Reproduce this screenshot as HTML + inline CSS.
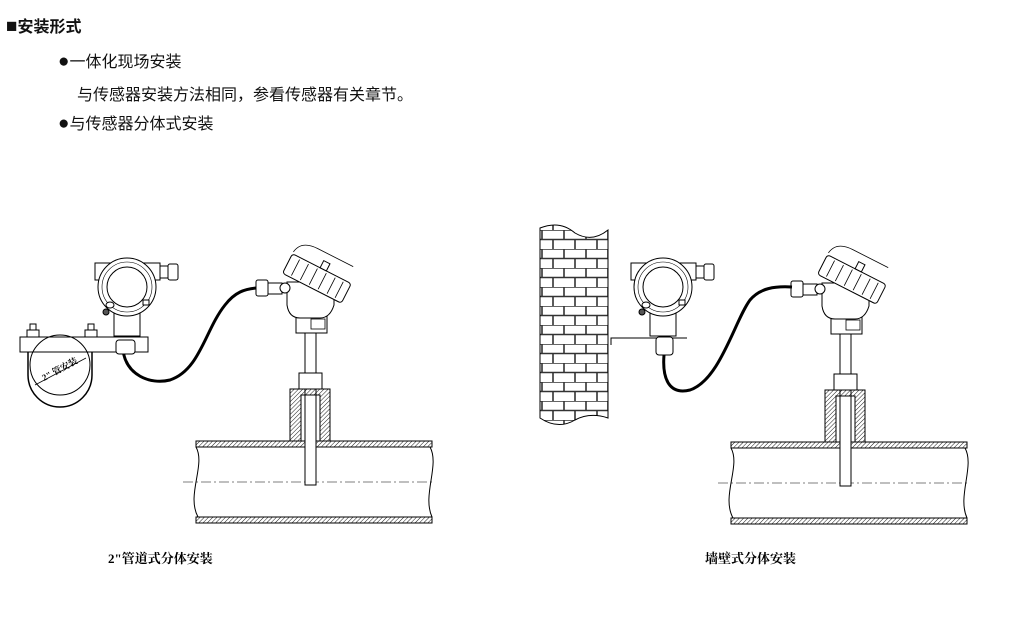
<!DOCTYPE html>
<html><head><meta charset="utf-8"><style>
html,body{margin:0;padding:0;background:#fff;}
body{width:1031px;height:640px;overflow:hidden;position:relative;}
.t{position:absolute;font-family:"Liberation Sans","Noto Sans CJK SC",sans-serif;color:#111;white-space:nowrap;}
</style></head><body>
<div class="t" style="left:6px;top:13px;font-size:16px;font-weight:bold;"><span style="font-size:19px;line-height:16px">■</span>安装形式</div>
<div class="t" style="left:58px;top:48px;font-size:16px;"><span style="font-size:19px;line-height:16px">●</span>一体化现场安装</div>
<div class="t" style="left:77px;top:81px;font-size:16px;">与传感器安装方法相同，参看传感器有关章节。</div>
<div class="t" style="left:58px;top:110px;font-size:16px;"><span style="font-size:19px;line-height:16px">●</span>与传感器分体式安装</div>
<svg width="1031" height="640" style="position:absolute;left:0;top:0" xmlns="http://www.w3.org/2000/svg">
<defs>
<pattern id="h" width="3" height="3" patternUnits="userSpaceOnUse" patternTransform="rotate(45)"><line x1="0" y1="0" x2="0" y2="3" stroke="#000" stroke-width="0.9"/></pattern>
<pattern id="b" x="540" y="230" width="22" height="19" patternUnits="userSpaceOnUse"><path d="M0 0H22M0 9.5H22M2 0V9.5M13 9.5V19" stroke="#333" stroke-width="1.6" fill="none"/></pattern>
<g id="tx" stroke="#000" stroke-width="1" fill="#fff">
 <rect x="95" y="263" width="65" height="17"/>
 <rect x="160" y="266" width="8" height="12"/><rect x="168" y="264" width="10" height="16" rx="2"/>
 <rect x="114" y="312" width="26" height="24"/>
 <circle cx="127" cy="287" r="29"/>
 <circle cx="127" cy="287" r="20" fill="none"/>
 <circle cx="127" cy="287" r="25" fill="none" stroke-width="0.6"/>
 <ellipse cx="110" cy="305" rx="4" ry="3"/><rect x="143" y="300" width="6" height="5"/>
 <circle cx="106" cy="312" r="3" fill="#555"/>
</g>
<g id="hd" stroke="#000" stroke-width="1" fill="#fff">
 <rect x="305" y="330" width="11" height="155"/>
 <rect x="299" y="373" width="23" height="16"/>
 <path d="M290 389H330V441H320V395H301V441H290Z" fill="url(#h)"/>
 <rect x="296" y="316" width="31" height="17"/>
 <rect x="311" y="319" width="14" height="10" stroke-width="0.8"/>
 <path d="M287 282H334V305Q330 318 320 318H300Q289 318 287 305Z"/>
 <rect x="256" y="280" width="12" height="16" rx="2"/><rect x="268" y="283" width="14" height="11"/>
 <circle cx="285" cy="288" r="5"/>
 <g transform="rotate(27 316 278)">
  <path d="M284 265Q286 251 304 251H344" fill="none" stroke-width="0.8"/>
  <rect x="284" y="267" width="66" height="22" rx="3"/>
  <path d="M293 269V287M303 269V287M313 269V287M323 269V287M333 269V287M342 269V287" stroke-width="0.8"/>
  <rect x="315" y="259" width="7" height="8"/>
 </g>
</g>
<g id="pp" stroke="#000" stroke-width="1">
 <rect x="196" y="441" width="236" height="6" fill="url(#h)"/>
 <rect x="196" y="517" width="236" height="6" fill="url(#h)"/>
 <path d="M196 447C206 465 186 495 198 517M430 447C440 465 422 495 432 517" fill="none"/>
 <line x1="183" y1="482" x2="434" y2="482" stroke-dasharray="10 3 2 3" stroke-width="0.6"/>
</g>
</defs>
<use href="#pp"/>
<use href="#hd"/>
<path d="M123 350C126 375 150 385 170 380C200 370 205 330 225 305C235 292 245 289 256 288" stroke="#000" stroke-width="3" fill="none"/>
<rect x="20" y="337" width="128" height="15" fill="#fff" stroke="#000"/>
<rect x="116" y="340" width="19" height="14" rx="3" fill="#fff" stroke="#000"/>
<rect x="27" y="330" width="12" height="7" fill="#fff" stroke="#000"/><rect x="30" y="324" width="6" height="6" fill="#fff" stroke="#000"/>
<rect x="85" y="330" width="12" height="7" fill="#fff" stroke="#000"/><rect x="88" y="324" width="6" height="6" fill="#fff" stroke="#000"/>
<path d="M28 352V375A32 32 0 0 0 92 375V352" fill="none" stroke="#000" stroke-width="1.5"/>
<circle cx="60" cy="365" r="30" fill="none" stroke="#000"/>
<line x1="35" y1="385" x2="86" y2="358" stroke="#000" stroke-width="0.8"/>
<text x="44" y="381" transform="rotate(-28 44 381)" font-family="Liberation Serif,Noto Serif CJK SC,serif" font-size="9" font-weight="bold">2" 管安装</text>
<use href="#tx"/>
<text x="108" y="563" font-family="Liberation Serif,Noto Serif CJK SC,serif" font-size="13" font-weight="bold">2"管道式分体安装</text>
<g transform="translate(535 1)"><use href="#pp"/><use href="#hd"/></g>
<path d="M540 228Q560 220 575 233Q592 243 608 230V418Q590 412 575 420Q558 430 540 418Z" fill="url(#b)" stroke="#000"/>
<path d="M611 345V338H687" fill="none" stroke="#000" stroke-width="1"/>
<use href="#tx" transform="translate(536 0)"/>
<rect x="656" y="337" width="17" height="18" rx="3" fill="#fff" stroke="#000"/>
<path d="M664 355C662 380 670 395 690 390C720 380 735 320 750 300C760 288 775 286 792 287" stroke="#000" stroke-width="3" fill="none"/>
<text x="705" y="563" font-family="Liberation Serif,Noto Serif CJK SC,serif" font-size="13" font-weight="bold">墙壁式分体安装</text>
</svg>
</body></html>
